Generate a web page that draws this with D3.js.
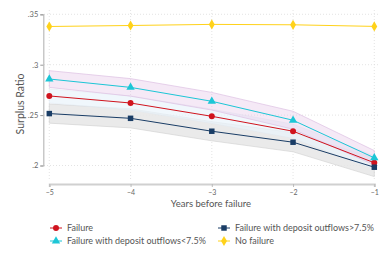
<!DOCTYPE html>
<html><head><meta charset="utf-8">
<script src="https://cdn.jsdelivr.net/npm/d3@7"></script>
<style>body{margin:0;background:#fff}svg{display:block;font-family:Lato,sans-serif}</style>
</head><body><svg id="c" width="389" height="259"></svg>
<script>
const years = [-5, -4, -3, -2, -1];
const yTicks = [0.2, 0.25, 0.3, 0.35];
const yTickLabels = [".2", ".25", ".3", ".35"];
const failure = [0.269, 0.262, 0.2488, 0.234, 0.2027];
const failureLo = [0.262, 0.255, 0.2418, 0.227, 0.196];
const failureHi = [0.276, 0.269, 0.2558, 0.241, 0.2095];
const outflowLow = [0.2858, 0.2775, 0.2637, 0.2449, 0.2076];
const outflowLowLo = [0.2775, 0.2688, 0.255, 0.236, 0.2005];
const outflowLowHi = [0.2941, 0.2862, 0.2725, 0.2538, 0.2148];
const outflowHigh = [0.2515, 0.2468, 0.234, 0.2231, 0.1983];
const outflowHighLo = [0.242, 0.2373, 0.2245, 0.2136, 0.189];
const outflowHighHi = [0.261, 0.2563, 0.2435, 0.2326, 0.2075];
const noFailure = [0.3379, 0.3389, 0.340, 0.3396, 0.338];

const svg = d3.select("#c");
const x = d3.scaleLinear().domain([-5, -1]).range([49.3, 374.3]);
const y = d3.scaleLinear().domain([0.2, 0.35]).range([165.5, 14.3]);

// grid
svg.append("g").selectAll("line").data(yTicks).join("line")
  .attr("x1", 44).attr("x2", 380).attr("y1", d => y(d)).attr("y2", d => y(d))
  .attr("stroke", "#dcdcdc").attr("stroke-width", 0.8).attr("stroke-dasharray", "1,2");
svg.append("g").selectAll("line").data(years).join("line")
  .attr("x1", d => x(d)).attr("x2", d => x(d)).attr("y1", 10).attr("y2", 180)
  .attr("stroke", "#dcdcdc").attr("stroke-width", 0.8).attr("stroke-dasharray", "1,2");

// axes
const yAxis = d3.axisLeft(y).tickValues(yTicks).tickFormat((d, i) => yTickLabels[i]).tickSize(3).tickPadding(2);
const gy = svg.append("g").attr("transform", "translate(43.3,0)").call(yAxis);
const xAxis = d3.axisBottom(x).tickValues(years).tickFormat(d3.format("d")).tickSize(3).tickPadding(3);
const gx = svg.append("g").attr("transform", "translate(0,184)").call(xAxis);
[gy, gx].forEach(g => {
  g.select(".domain").attr("stroke", "#bbb").attr("stroke-width", 1.2);
  g.selectAll(".tick line").attr("stroke", "#999");
  g.selectAll(".tick text").attr("fill", "#666").attr("font-size", 7.5).attr("font-family", "Lato, sans-serif");
});
gx.select(".domain").attr("stroke", "#d0d0d0").attr("stroke-width", 2);
gx.selectAll(".tick line").attr("stroke", "#bbb").attr("stroke-width", 1);
gx.selectAll(".tick text").attr("font-size", 7);

svg.append("text").attr("transform", "translate(24,104) rotate(-90)").attr("text-anchor", "middle")
  .attr("font-size", 10.5).attr("fill", "#555").text("Surplus Ratio");
svg.append("text").attr("x", 211).attr("y", 207).attr("text-anchor", "middle")
  .attr("font-size", 9.5).attr("fill", "#555").text("Years before failure");

// bands
const area = (lo, hi) => d3.area().x((d, i) => x(years[i])).y0((d, i) => y(lo[i])).y1((d, i) => y(hi[i]))(years);
svg.append("path").attr("d", area(outflowHighLo, outflowHighHi)).attr("fill", "#e6e6e6").attr("fill-opacity", 0.85).attr("stroke", "#cfcfcf").attr("stroke-width", 0.6);
svg.append("path").attr("d", area(failureLo, failureHi)).attr("fill", "#eaf3fb").attr("fill-opacity", 0.7).attr("stroke", "#e0e8f0").attr("stroke-width", 0.5);
svg.append("path").attr("d", area(outflowLowLo, outflowLowHi)).attr("fill", "#e6c8e8").attr("fill-opacity", 0.4).attr("stroke", "#dcc0e2").attr("stroke-width", 0.7);

const series = [
  {name: "Failure", vals: failure, color: "#d0141e", sym: d3.symbolCircle, size: 28},
  {name: "Failure with deposit outflows>7.5%", vals: outflowHigh, color: "#1a3d66", sym: d3.symbolSquare, size: 30},
  {name: "Failure with deposit outflows<7.5%", vals: outflowLow, color: "#1cc6d6", sym: d3.symbolTriangle, size: 30},
  {name: "No failure", vals: noFailure, color: "#ffd21a", sym: d3.symbolDiamond, size: 30}
];
const line = d3.line().x((d, i) => x(years[i])).y(d => y(d));
series.forEach(s => {
  svg.append("path").attr("d", line(s.vals)).attr("fill", "none").attr("stroke", s.color).attr("stroke-width", 1);
  svg.append("g").selectAll("path").data(s.vals).join("path")
    .attr("transform", (d, i) => `translate(${x(years[i])},${y(d)})`)
    .attr("d", d3.symbol(s.sym, s.size)).attr("fill", s.color);
});

// legend
const legPos = [[50, 228], [218, 228], [50, 241], [218, 241]];
series.forEach((s, i) => {
  const [lx, ly] = legPos[i];
  const g = svg.append("g").attr("transform", `translate(${lx},${ly})`);
  g.append("line").attr("x1", 0).attr("x2", 12).attr("stroke", s.color).attr("stroke-width", 1);
  g.append("path").attr("transform", "translate(6,0)").attr("d", d3.symbol(s.sym, s.size)).attr("fill", s.color);
  g.append("text").attr("x", 17).attr("y", 3.2).attr("font-size", 9).attr("fill", "#555").text(s.name);
});
</script></body></html>
